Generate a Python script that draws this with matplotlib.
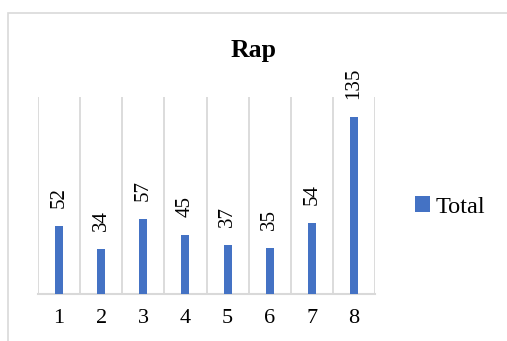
import matplotlib
matplotlib.use("Agg")
import matplotlib.pyplot as plt
from matplotlib.patches import Rectangle

# data
categories = ["1", "2", "3", "4", "5", "6", "7", "8"]
totals = [52, 34, 57, 45, 37, 35, 54, 135]

plt.rcParams['font.family'] = ['Liberation Serif', 'DejaVu Serif']

fig = plt.figure(figsize=(5.07, 3.41), dpi=100)

# chart area border (cut off at right and bottom like the screenshot)
fig.patches.append(Rectangle((8 / 507, -0.1), 1.2, 1 - 13 / 341 + 0.1,
                             transform=fig.transFigure, fill=False,
                             edgecolor='#d9d9d9', linewidth=1.2))

ax = fig.add_axes([38 / 507, 47 / 341, 337 / 507, 197 / 341])
x = list(range(1, len(categories) + 1))
bars = ax.bar(x, totals, width=0.19, color='#4472C4', label='Total', zorder=3)

ax.set_xlim(0.5, len(categories) + 0.5)
ax.set_ylim(0, 150)

# vertical gridlines between categories
for b in range(len(categories) + 1):
    ax.axvline(b + 0.5, color='#d9d9d9', linewidth=1.3, zorder=1)

for s in ['top', 'right', 'left']:
    ax.spines[s].set_visible(False)
ax.spines['bottom'].set_color('#d9d9d9')
ax.spines['bottom'].set_linewidth(1.5)

ax.set_yticks([])
ax.set_xticks(x)
ax.set_xticklabels(categories, fontsize=16)
ax.tick_params(axis='x', length=0, pad=11)

# data labels
for xi, v in zip(x, totals):
    ax.annotate(str(v), (xi, v), xytext=(0, 13), textcoords='offset points',
                rotation=90, ha='center', va='bottom', fontsize=15)

fig.text(0.5, 1 - 51 / 341, "Rap", ha='center', va='center',
         fontsize=18.5, fontweight='bold')

leg = ax.legend(loc='center left', bbox_to_anchor=(415 / 507, 1 - 207 / 341),
                bbox_transform=fig.transFigure, frameon=False, fontsize=17.5,
                handlelength=0.6, handleheight=0.6, handletextpad=0.25,
                borderpad=0, borderaxespad=0)

fig.savefig("out.png", dpi=100)
